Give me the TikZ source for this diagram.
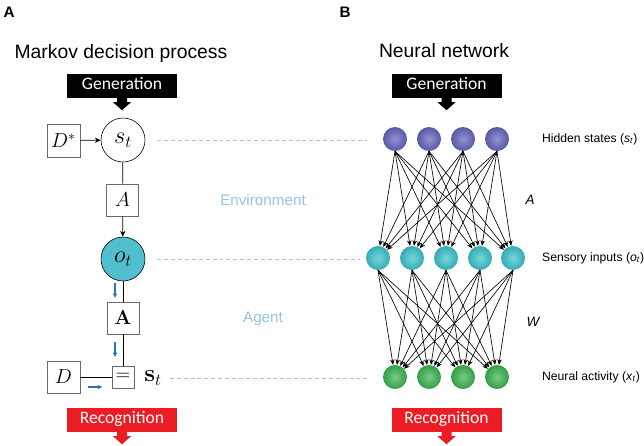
\documentclass[tikz,border=0pt]{standalone}
\usepackage[no-math]{fontspec}
\setmainfont{Liberation Sans}
\newfontfamily\calfont{Carlito}
\usetikzlibrary{arrows.meta,calc}
\definecolor{boxgrey}{RGB}{105,105,105}
\definecolor{obscyan}{RGB}{80,190,205}
\definecolor{msgblue}{RGB}{40,115,195}
\definecolor{paleblue}{RGB}{150,195,225}
\definecolor{dashblue}{RGB}{165,200,222}
\definecolor{recred}{RGB}{235,28,36}
\definecolor{hidpurple}{RGB}{100,100,190}
\definecolor{sencyan}{RGB}{60,195,205}
\definecolor{neugreen}{RGB}{60,180,80}
\newlength\unitpx
\setlength\unitpx{0.03cm}
\newcommand\mathsz{\fontsize{17.28}{20}\selectfont}
\newcommand\mathbig{\fontsize{20.74}{24}\selectfont}
\tikzset{blockarrow/.pic={
  \fill (-5,0) -- (5,0) -- (5,4) -- (9,4) -- (0,12) -- (-9,4) -- (-5,4) -- cycle;}}

\begin{document}
\begin{tikzpicture}[x=0.03cm, y=-0.03cm,
    factor/.style={draw=boxgrey, line width=0.6pt, fill=white,
      minimum size=33\unitpx, inner sep=0pt, font=\mathsz},
    statecirc/.style={circle, draw=black, line width=0.5pt, fill=white,
      minimum size=44\unitpx, inner sep=0pt, font=\mathbig},
    banner/.style={minimum width=110\unitpx, minimum height=24\unitpx,
      inner sep=0pt, text=white, text height=0.72em, text depth=0.2em,
      font=\calfont\fontsize{15}{17}\selectfont},
    msg/.style={msgblue, line width=0.9pt, -{Latex[length=4pt,width=4pt]}},
    link/.style={dashblue, line width=0.6pt, dash pattern=on 3.4pt off 2.5pt},
    ball/.style={circle, minimum size=24\unitpx, inner sep=0pt,
      inner color=#1!70!white, outer color=#1!88!black},
    netarrow/.style={line width=0.55pt, -{Stealth[length=4.8pt,width=3.8pt]}},
    layer/.style={anchor=west, font=\fontsize{10.4}{12}\selectfont}]
  \useasboundingbox (0,0) rectangle (644,445);

  % Panel letters and titles
  \node[font=\bfseries\fontsize{13}{15}\selectfont] (pa) at (9,12) {A};
  \node[font=\bfseries\fontsize{13}{15}\selectfont] (pb) at (345,12) {B};
  \node[anchor=base, font=\fontsize{16.5}{19}\selectfont] (mdp) at (121,58)
    {Markov decision process};
  \node[anchor=base, font=\fontsize{16.5}{19}\selectfont] (nn) at (444,57)
    {Neural network};

  % Generation / recognition banners
  \node[banner, fill=black] (genl) at (122,86) {Generation};
  \node[banner, fill=black] (genr) at (446.5,86) {Generation};
  \node[banner, fill=recred] (recl) at (122,420) {Recognition};
  \node[banner, fill=recred] (recr) at (446.5,420) {Recognition};
  \pic[black] at (genl.south) {blockarrow};
  \pic[black] at (genr.south) {blockarrow};
  \pic[recred] at (recl.south) {blockarrow};
  \pic[recred] at (recr.south) {blockarrow};

  % Markov decision process (factor graph)
  \node[statecirc] (st) at (123,140) {$s_t$};
  \node[factor] (dstar) at (63.5,140.5) {$D^*$};
  \node[factor, minimum size=32\unitpx] (amat) at (122.5,200) {$A$};
  \node[statecirc, fill=obscyan] (ot) at (123,259) {$o_t$};
  \node[factor, minimum size=32\unitpx] (abold) at (123,318) {$\mathbf{A}$};
  \node[factor, minimum size=22\unitpx] (eq) at (123,377) {$=$};
  \node[factor, minimum height=32\unitpx] (dvec) at (63.5,377) {$D$};
  \node[font=\mathbig] (sbold) at (153,378) {$\mathbf{s}_t$};

  \draw[line width=0.6pt, -{Stealth[length=5pt,width=4.5pt]}] (dstar) -- (st);
  \draw[line width=0.6pt] (st) -- (amat);
  \draw[line width=0.6pt, -{Stealth[length=5pt,width=4.5pt]}] (amat) -- (ot);
  \draw[line width=0.6pt] (ot) -- (abold);
  \draw[line width=0.6pt] (abold) -- (eq);
  \draw[line width=0.6pt] (dvec) -- (eq);

  % messages
  \draw[msg] ($(ot.south)+(-8,2)$) -- ++(0,15);
  \draw[msg] ($(abold.south)+(-8,8)$) -- ++(0,15);
  \draw[msg] ($(eq.west)+(-24,10)$) -- ++(15,0);

  \node[paleblue, font=\fontsize{13}{15}\selectfont] (env) at (263,200) {Environment};
  \node[paleblue, font=\fontsize{13}{15}\selectfont] (agent) at (263,319) {Agent};

  % Neural network layers
  \foreach \i/\x in {1/395,2/429,3/463,4/497}{
    \node[ball=hidpurple] (h\i) at (\x,139) {};
    \node[ball=neugreen] (x\i) at (\x,377) {};
  }
  \foreach \j/\x in {1/378,2/412,3/446,4/480,5/513}
    \node[ball=sencyan] (o\j) at (\x,258) {};

  \foreach \i in {1,...,4}
    \foreach \j in {1,...,5}{
      \draw[netarrow] (h\i.south) -- (o\j);
      \draw[netarrow] (o\j.south) -- (x\i);
    }

  \node[layer] (lh) at (538,139) {Hidden states (\textit{s}\textsubscript{\textit{t}})};
  \node[layer] (lo) at (538,258) {Sensory inputs (\textit{o}\textsubscript{\textit{t}})};
  \node[layer] (lx) at (538,377) {Neural activity (\textit{x}\textsubscript{\textit{t}})};
  \node[font=\itshape\fontsize{11.5}{13}\selectfont] (wa) at (530,200) {A};
  \node[font=\itshape\fontsize{11.5}{13}\selectfont] (ww) at (533,322) {W};

  % dashed correspondences
  \draw[link] ($(st.east)+(12,0)$) -- ($(st.east -| h1.west)+(-16,0)$);
  \draw[link] ($(ot.east)+(12,0)$) -- ($(ot.east -| o1.west)+(-6,0)$);
  \draw[link] ($(sbold.east)+(4,0)$) -- ($(sbold.east -| x1.west)+(-16,0)$);
\end{tikzpicture}
\end{document}
